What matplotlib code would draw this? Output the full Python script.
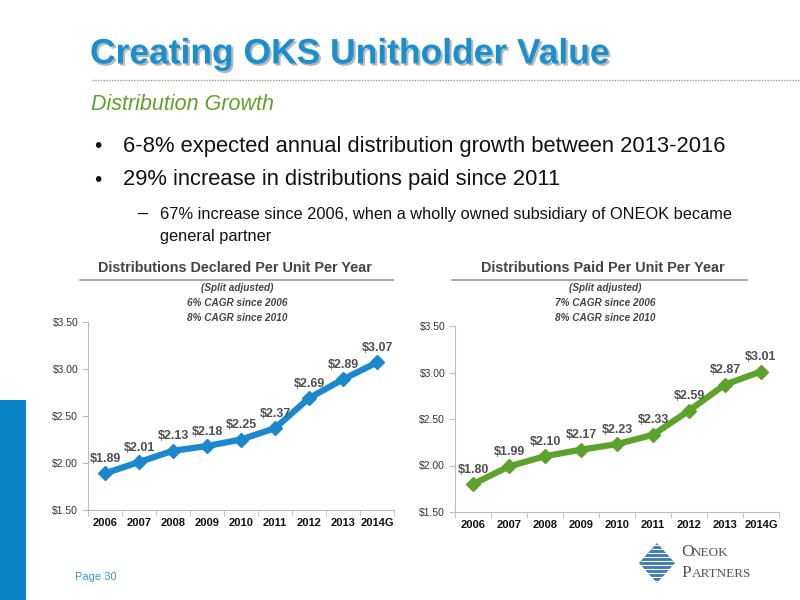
import matplotlib
matplotlib.use("Agg")
import matplotlib.pyplot as plt
import matplotlib.patheffects as pe
from matplotlib.patches import Rectangle, Polygon
from matplotlib.lines import Line2D
import numpy as np

plt.rcParams['font.family'] = ['Liberation Sans', 'DejaVu Sans']

# data
years = ["2006", "2007", "2008", "2009", "2010", "2011", "2012", "2013", "2014G"]
declared = [1.89, 2.01, 2.13, 2.18, 2.25, 2.37, 2.69, 2.89, 3.07]
paid = [1.80, 1.99, 2.10, 2.17, 2.23, 2.33, 2.59, 2.87, 3.01]
yticks = [1.50, 2.00, 2.50, 3.00, 3.50]

BLUE = "#1b87cc"
GREEN = "#5ea22e"
TITLE_BLUE = "#1a8fd0"
GRAY = "#505050"

fig = plt.figure(figsize=(8, 6), dpi=100)

# left accent bar
fig.add_artist(Rectangle((0, 0), 26 / 800, 200 / 600, transform=fig.transFigure,
                         color="#0a82c8", lw=0))

# header
fig.text(90 / 800, 1 - 54 / 600, "Creating OKS Unitholder Value", fontsize=25.5,
         weight="bold", color=TITLE_BLUE, va="center",
         path_effects=[pe.withSimplePatchShadow(offset=(1.5, -1.5), shadow_rgbFace="#888888", alpha=0.6)])
fig.add_artist(Line2D([92 / 800, 1], [1 - 80 / 600] * 2, transform=fig.transFigure,
                      color="#999999", lw=1, ls=(0, (1, 1))))
fig.text(91 / 800, 1 - 104 / 600, "Distribution Growth", fontsize=15.5, style="italic",
         color="#5ea22e", va="center")

fig.text(94 / 800, 1 - 146 / 600, "•", fontsize=15, va="center", color="#111111")
fig.text(123 / 800, 1 - 146 / 600, "6-8% expected annual distribution growth between 2013-2016",
         fontsize=15.8, va="center", color="#111111")
fig.text(94 / 800, 1 - 180 / 600, "•", fontsize=15, va="center", color="#111111")
fig.text(123 / 800, 1 - 180 / 600, "29% increase in distributions paid since 2011",
         fontsize=15.8, va="center", color="#111111")
fig.text(138 / 800, 1 - 213 / 600, "–", fontsize=13, va="center", color="#111111")
fig.text(160 / 800, 1 - 214 / 600,
         "67% increase since 2006, when a wholly owned subsidiary of ONEOK became",
         fontsize=11.8, va="center", color="#111111")
fig.text(160 / 800, 1 - 237 / 600, "general partner",
         fontsize=11.8, va="center", color="#111111")


def draw_chart(rect, values, color, title, cagr06, title_x, line_x):
    ax = fig.add_axes(rect)
    x = np.arange(len(years))
    ax.plot(x, values, color=color, lw=4.5, marker="D", ms=7, solid_joinstyle="round")
    for xi, v in zip(x, values):
        ax.annotate(f"${v:.2f}", (xi, v), xytext=(0, 6), textcoords="offset points",
                    ha="center", va="bottom", fontsize=9, weight="bold", color=GRAY)
    ax.set_xlim(-0.5, len(years) - 0.5)
    ax.set_ylim(1.5, 3.5)
    ax.set_yticks(yticks)
    ax.set_yticklabels([f"${t:.2f}" for t in yticks], fontsize=7.5, color="#333333")
    ax.set_xticks(x)
    ax.set_xticklabels(years, fontsize=8, weight="bold", color="#111111")
    ax.set_xticks(np.arange(-0.5, len(years), 1), minor=True)
    ax.tick_params(axis="x", which="major", length=0, pad=6)
    ax.tick_params(axis="x", which="minor", length=4, color="#bbbbbb", direction="out")
    ax.tick_params(axis="y", length=4, color="#bbbbbb", pad=3)
    for s in ["top", "right"]:
        ax.spines[s].set_visible(False)
    for s in ["left", "bottom"]:
        ax.spines[s].set_color("#bbbbbb")
    ax.set_facecolor("none")
    # title block
    fig.text(title_x / 800, 1 - 268 / 600, title, fontsize=10.4, weight="bold",
             color="#444444", ha="center", va="center")
    fig.add_artist(Line2D([line_x[0] / 800, line_x[1] / 800], [1 - 280 / 600] * 2,
                          transform=fig.transFigure, color="#999999", lw=1.2))
    cx = (title_x + 2) / 800
    for i, s in enumerate(["(Split adjusted)", cagr06, "8% CAGR since 2010"]):
        fig.text(cx, 1 - (288 + 15 * i) / 600, s, fontsize=7.2, style="italic",
                 weight="bold", color="#444444", ha="center", va="center")
    return ax


draw_chart([88 / 800, 1 - 510 / 600, 306 / 800, 188 / 600], declared, BLUE,
           "Distributions Declared Per Unit Per Year", "6% CAGR since 2006", 235, (80, 393))
draw_chart([455 / 800, 1 - 512 / 600, 324 / 800, 186 / 600], paid, GREEN,
           "Distributions Paid Per Unit Per Year", "7% CAGR since 2006", 603, (452, 747))

# footer
fig.text(75 / 800, 1 - 577 / 600, "Page 30", fontsize=8, color="#3a9ad6", va="center")

# logo
cxl, cyl, w, h = 657, 563, 18, 20
fig.add_artist(Polygon([((cxl - w) / 800, 1 - cyl / 600), (cxl / 800, 1 - (cyl - h) / 600),
                        ((cxl + w) / 800, 1 - cyl / 600), (cxl / 800, 1 - (cyl + h) / 600)],
                       closed=True, transform=fig.transFigure, fc="#3f7fb0", ec="none"))
for k in range(-9, 10, 2):
    yy = cyl + k * 2
    half = w * (1 - abs(k * 2) / h)
    fig.add_artist(Line2D([(cxl - half) / 800, (cxl + half) / 800], [1 - yy / 600] * 2,
                          transform=fig.transFigure, color="white", lw=0.8))
for yy, first, rest in [(556, "O", "NEOK"), (577, "P", "ARTNERS")]:
    fig.text(681 / 800, 1 - yy / 600, first, fontsize=12.5, family="Liberation Serif",
             color="#555555", va="baseline")
    fig.text(692 / 800, 1 - yy / 600, rest, fontsize=9.5, family="Liberation Serif",
             color="#555555", va="baseline")

fig.savefig("out.png", dpi=100)
